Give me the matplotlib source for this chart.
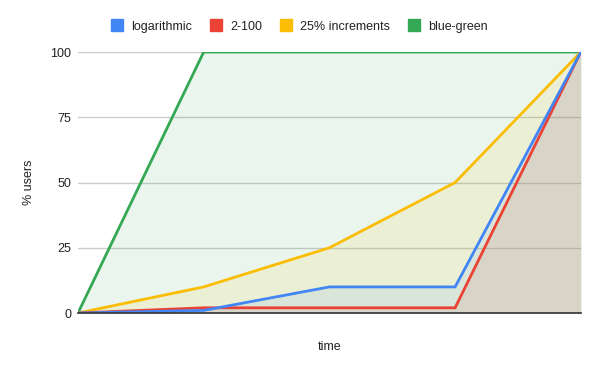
import matplotlib
matplotlib.use("Agg")
import matplotlib.pyplot as plt
from matplotlib.lines import Line2D

plt.rcParams['font.family'] = ['Liberation Sans', 'DejaVu Sans']

x = [0, 1, 2, 3, 4]
series_names = ['logarithmic', '2-100', '25% increments', 'blue-green']
logarithmic = [0, 1, 10, 10, 100]
two_100 = [0, 2, 2, 2, 100]
increments = [0, 10, 25, 50, 100]
blue_green = [0, 100, 100, 100, 100]
colors = ['#4285F4', '#EA4335', '#FBBC04', '#34A853']
yticks = [0, 25, 50, 75, 100]

fig = plt.figure(figsize=(6, 3.71), dpi=100)
ax = fig.add_axes([0.13, 0.1563, 0.838, 0.7035])

data = [logarithmic, two_100, increments, blue_green]
# draw in reverse so blue/red lines sit on top
for vals, c in reversed(list(zip(data, colors))):
    ax.fill_between(x, 0, vals, color=c, alpha=0.1, lw=0)
for vals, c in reversed(list(zip(data, colors))):
    ax.plot(x, vals, color=c, lw=2, solid_joinstyle='miter')

ax.set_xlim(0, 4)
ax.set_ylim(0, 100)
ax.set_yticks(yticks)
ax.set_xticks([])
ax.grid(axis='y', color='#cccccc', lw=1)
ax.set_axisbelow(True)
for s in ['top', 'right', 'left']:
    ax.spines[s].set_visible(False)
ax.spines['bottom'].set_color('#333333')
ax.spines['bottom'].set_linewidth(1.2)
ax.tick_params(axis='y', length=0, pad=5, labelsize=9, labelcolor='#222222')

ax.set_ylabel('% users', fontsize=9, color='#222222')
ax.yaxis.set_label_coords(-0.085, 0.5)
ax.set_xlabel('time', fontsize=9, color='#222222', labelpad=20)

handles = [Line2D([], [], marker='s', ls='', markersize=8, color=c) for c in colors]
fig.legend(handles, series_names, loc='upper center', bbox_to_anchor=(0.5, 0.975),
           ncol=4, frameon=False, fontsize=9, handlelength=0.8, handletextpad=0.75,
           columnspacing=1.5, labelcolor='#222222')

fig.savefig('out.png', dpi=100)
